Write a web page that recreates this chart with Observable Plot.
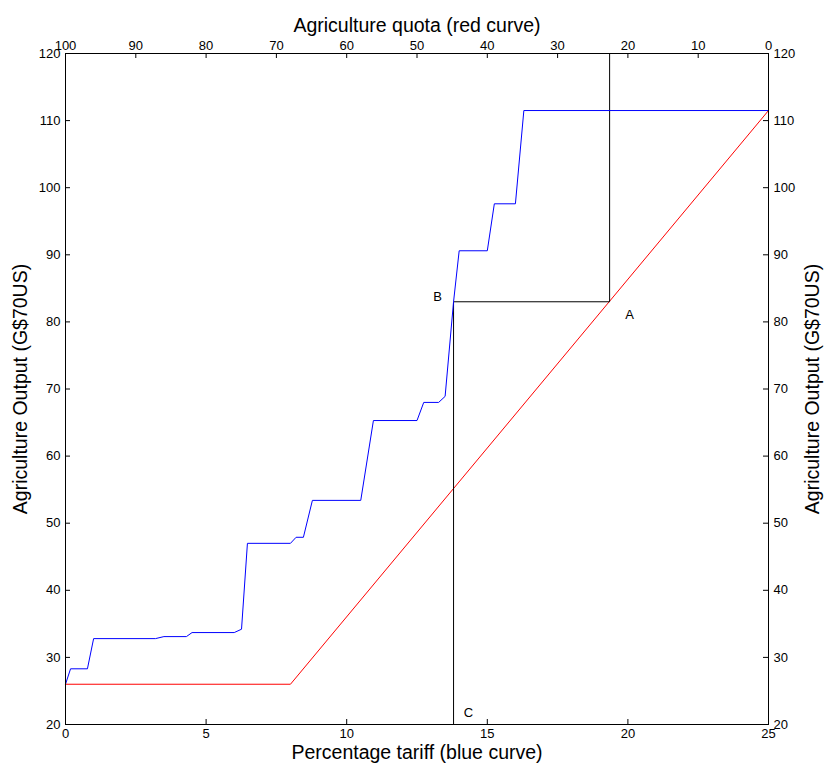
<!DOCTYPE html>
<html><head><meta charset="utf-8">
<script src="https://cdn.jsdelivr.net/npm/d3@7"></script>
<script src="https://cdn.jsdelivr.net/npm/@observablehq/plot@0.6"></script>
<style>body{margin:0;background:#fff}</style>
</head><body><div id="chart"></div>
<script>
// Tick labels
const tariffTicks = [0, 5, 10, 15, 20, 25];
const quotaTicks = [100, 90, 80, 70, 60, 50, 40, 30, 20, 10, 0];
const outputTicks = [20, 30, 40, 50, 60, 70, 80, 90, 100, 110, 120];

// Blue curve: output vs percentage tariff
const blueTariff = [0, 0.18, 0.78, 1.0, 3.2, 3.5, 4.3, 4.5, 6.0, 6.26, 6.47, 8.0, 8.2, 8.46, 8.78, 10.5, 10.95, 12.5, 12.74, 13.27, 13.5, 13.8, 14.0, 15.0, 15.25, 16.0, 16.3, 25];
const blueOutput = [26, 28.3, 28.3, 32.8, 32.8, 33.1, 33.1, 33.7, 33.7, 34.2, 47.0, 47.0, 47.9, 47.9, 53.4, 53.4, 65.3, 65.3, 68.0, 68.0, 68.9, 83.0, 90.6, 90.6, 97.6, 97.6, 111.5, 111.5];

// Red curve: output vs agriculture quota (plotted on tariff axis)
const redTariff = [0, 8.0, 25];
const redOutput = [26, 26, 111.5];

// Black guide lines C -> B -> A -> top
const guideTariff = [13.8, 13.8, 19.35, 19.35];
const guideOutput = [20, 83, 83, 120];

// Point labels
const pointLabels = ["A", "B", "C"];
const pointTariff = [19.35, 13.8, 13.8];
const pointOutput = [83, 83, 20];

const titleTop = "Agriculture quota (red curve)";
const titleBottom = "Percentage tariff (blue curve)";
const titleY = "Agriculture Output (G$70US)";

const W = 825, H = 771, mL = 65, mR = 57, mT = 53, mB = 47;
const pw = W - mL - mR, ph = H - mT - mB;

const quotaToTariff = q => (100 - q) / 4;
const tariffToQuota = t => Math.round(100 - 4 * t);
const quotaPos = quotaTicks.map(quotaToTariff);

const blue = d3.zip(blueTariff, blueOutput);
const red = d3.zip(redTariff, redOutput);
const guide = d3.zip(guideTariff, guideOutput);
const pts = pointLabels.map((l, i) => ({label: l, x: pointTariff[i], y: pointOutput[i]}));
const offs = {A: [20, 13], B: [-16, -5], C: [15, -12]};

const chart = Plot.plot({
  width: W, height: H,
  marginLeft: mL, marginRight: mR, marginTop: mT, marginBottom: mB,
  style: {fontFamily: "'Liberation Sans', Arial, sans-serif", fontSize: "13px", color: "black", background: "white"},
  x: {domain: [0, 25]},
  y: {domain: [20, 120]},
  marks: [
    Plot.axisX(tariffTicks, {anchor: "bottom", tickSize: 0, tickPadding: 4, label: null}),
    Plot.axisX(quotaPos, {anchor: "top", tickSize: 0, tickPadding: 4, tickFormat: tariffToQuota, label: null}),
    Plot.axisY(outputTicks, {anchor: "left", tickSize: 0, tickPadding: 5, label: null}),
    Plot.axisY(outputTicks, {anchor: "right", tickSize: 0, tickPadding: 5, label: null}),
    Plot.tickX(tariffTicks, {x: d => d, insetTop: ph - 5, stroke: "black"}),
    Plot.tickX(quotaPos, {x: d => d, insetBottom: ph - 5, stroke: "black"}),
    Plot.tickY(outputTicks, {y: d => d, insetRight: pw - 5, stroke: "black"}),
    Plot.tickY(outputTicks, {y: d => d, insetLeft: pw - 5, stroke: "black"}),
    Plot.line(red, {stroke: "#ff0000", strokeWidth: 1}),
    Plot.line(guide, {stroke: "black", strokeWidth: 1}),
    Plot.line(blue, {stroke: "#0000ff", strokeWidth: 1}),
    ...pts.map(p => Plot.text([p], {x: "x", y: "y", text: "label", dx: offs[p.label][0], dy: offs[p.label][1], fontSize: 13})),
    Plot.frame({stroke: "black"}),
    Plot.text([titleTop], {frameAnchor: "top", textAnchor: "middle", dy: -35, fontSize: 19.5}),
    Plot.text([titleBottom], {frameAnchor: "bottom", textAnchor: "middle", dy: 34, fontSize: 19.5}),
    Plot.text([titleY], {frameAnchor: "left", textAnchor: "middle", rotate: -90, dx: -45, fontSize: 19.5}),
    Plot.text([titleY], {frameAnchor: "right", textAnchor: "middle", rotate: -90, dx: 44, fontSize: 19.5})
  ]
});
document.getElementById("chart").appendChild(chart);
</script>
</body></html>
